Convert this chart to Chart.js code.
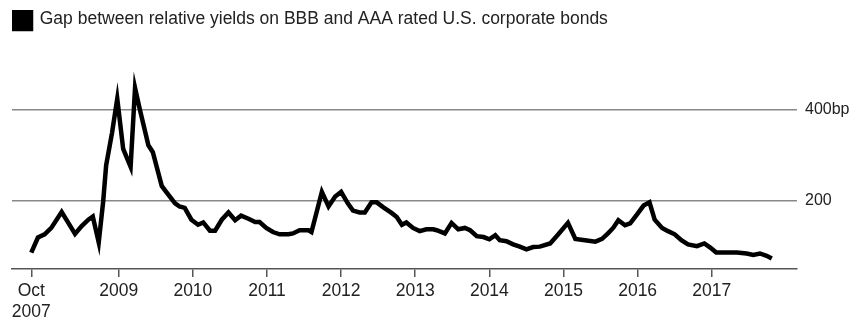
<!DOCTYPE html>
<html>
<head>
<meta charset="utf-8">
<script src="https://cdn.jsdelivr.net/npm/chart.js@4/dist/chart.umd.min.js"></script>
<style>
  html, body { margin: 0; padding: 0; background: #fff; }
  #wrap { width: 856px; height: 321px; }
</style>
</head>
<body>
<div id="wrap"><canvas id="chart"></canvas></div>
<script>
// readings: x in decimal years, y in basis points
const years = [2007.82, 2007.91, 2008.00, 2008.09, 2008.23, 2008.32, 2008.41, 2008.50, 2008.59, 2008.65,
    2008.73, 2008.79, 2008.83, 2008.91, 2008.98, 2009.06, 2009.16, 2009.22, 2009.28, 2009.40,
    2009.46, 2009.58, 2009.64, 2009.76, 2009.82, 2009.89, 2009.98, 2010.07, 2010.14, 2010.23,
    2010.30, 2010.39, 2010.48, 2010.57, 2010.65, 2010.75, 2010.84, 2010.90, 2010.99, 2011.08,
    2011.17, 2011.29, 2011.35, 2011.44, 2011.56, 2011.60, 2011.74, 2011.83, 2011.92, 2012.00,
    2012.09, 2012.16, 2012.25, 2012.32, 2012.41, 2012.48, 2012.57, 2012.68, 2012.75, 2012.82,
    2012.88, 2012.97, 2013.06, 2013.15, 2013.24, 2013.29, 2013.40, 2013.49, 2013.58, 2013.67,
    2013.74, 2013.83, 2013.92, 2014.00, 2014.08, 2014.14, 2014.23, 2014.32, 2014.41, 2014.50,
    2014.59, 2014.68, 2014.82, 2014.93, 2015.06, 2015.16, 2015.29, 2015.43, 2015.52, 2015.60,
    2015.67, 2015.74, 2015.83, 2015.90, 2015.99, 2016.08, 2016.16, 2016.23, 2016.33, 2016.41,
    2016.50, 2016.59, 2016.68, 2016.80, 2016.90, 2016.98, 2017.06, 2017.34, 2017.47, 2017.56,
    2017.65, 2017.74, 2017.81];
const spreads = [86, 119, 126, 140, 175, 151, 127, 144, 158, 165,
    108, 198, 277, 349, 423, 313, 274, 447, 403, 321,
    306, 232, 219, 194, 187, 184, 158, 147, 152, 134,
    134, 158, 174, 157, 167, 160, 153, 153, 140, 131,
    126, 126, 128, 135, 135, 131, 219, 187, 209, 219,
    194, 178, 174, 174, 196, 196, 185, 173, 164, 147,
    152, 140, 133, 137, 137, 135, 128, 151, 137, 140,
    135, 122, 120, 115, 124, 113, 111, 104, 99, 93,
    98, 99, 106, 126, 151, 116, 113, 110, 116, 128,
    140, 157, 146, 150, 169, 189, 196, 158, 140, 133,
    126, 113, 104, 100, 106, 97, 86, 86, 84, 81,
    84, 79, 73];

const tickYears = [2007.82, 2009, 2010, 2011, 2012, 2013, 2014, 2015, 2016, 2017];
const tickLabels = ["Oct 2007", "2009", "2010", "2011", "2012", "2013", "2014", "2015", "2016", "2017"];
const gridValues = [200, 400];
const gridLabels = ["200", "400bp"];

const seriesName = "Gap between relative yields on BBB and AAA rated U.S. corporate bonds";

const points = years.map((y, i) => ({ x: y, y: spreads[i] }));

Chart.defaults.font.family = "'Liberation Sans', Arial, sans-serif";
Chart.defaults.color = "#222";

new Chart(document.getElementById("chart"), {
    type: "line",
    data: {
        datasets: [{
            label: seriesName,
            data: points,
            borderColor: "#000",
            backgroundColor: "#000",
            borderWidth: 4.5,
            pointRadius: 0,
            tension: 0,
            borderJoinStyle: "miter"
        }]
    },
    options: {
        responsive: true,
        maintainAspectRatio: false,
        animation: false,
        layout: { padding: { left: 12, right: 0, top: 10, bottom: 0 } },
        plugins: {
            tooltip: { enabled: false },
            legend: {
                position: "top",
                align: "start",
                labels: {
                    boxWidth: 19,
                    boxHeight: 19,
                    padding: 0,
                    color: "#222",
                    font: { size: 17.5 }
                }
            }
        },
        scales: {
            x: {
                type: "linear",
                min: 2007.56,
                max: 2018.15,
                afterBuildTicks: (s) => { s.ticks = tickYears.map(v => ({ value: v })); },
                afterFit: (s) => { s.height = 52; },
                border: { display: true, color: "#555", width: 1.5 },
                grid: { drawOnChartArea: false, drawTicks: true, tickLength: 8, color: "#555", lineWidth: 1.5 },
                ticks: {
                    autoSkip: false,
                    maxRotation: 0,
                    padding: 4,
                    color: "#222",
                    font: { size: 17.5 },
                    callback: (v, i) => {
                        const t = tickLabels[i];
                        return t.includes(" ") ? t.split(" ") : t;
                    }
                }
            },
            y: {
                position: "right",
                min: 50,
                max: 554,
                afterBuildTicks: (s) => { s.ticks = gridValues.map(v => ({ value: v })); },
                afterFit: (s) => { s.width = 59; },
                border: { display: false },
                grid: { drawTicks: false, color: "#888", lineWidth: 1.5 },
                ticks: {
                    padding: 8,
                    color: "#222",
                    font: { size: 16 },
                    callback: (v, i) => gridLabels[i]
                }
            }
        }
    }
});
</script>
</body>
</html>
